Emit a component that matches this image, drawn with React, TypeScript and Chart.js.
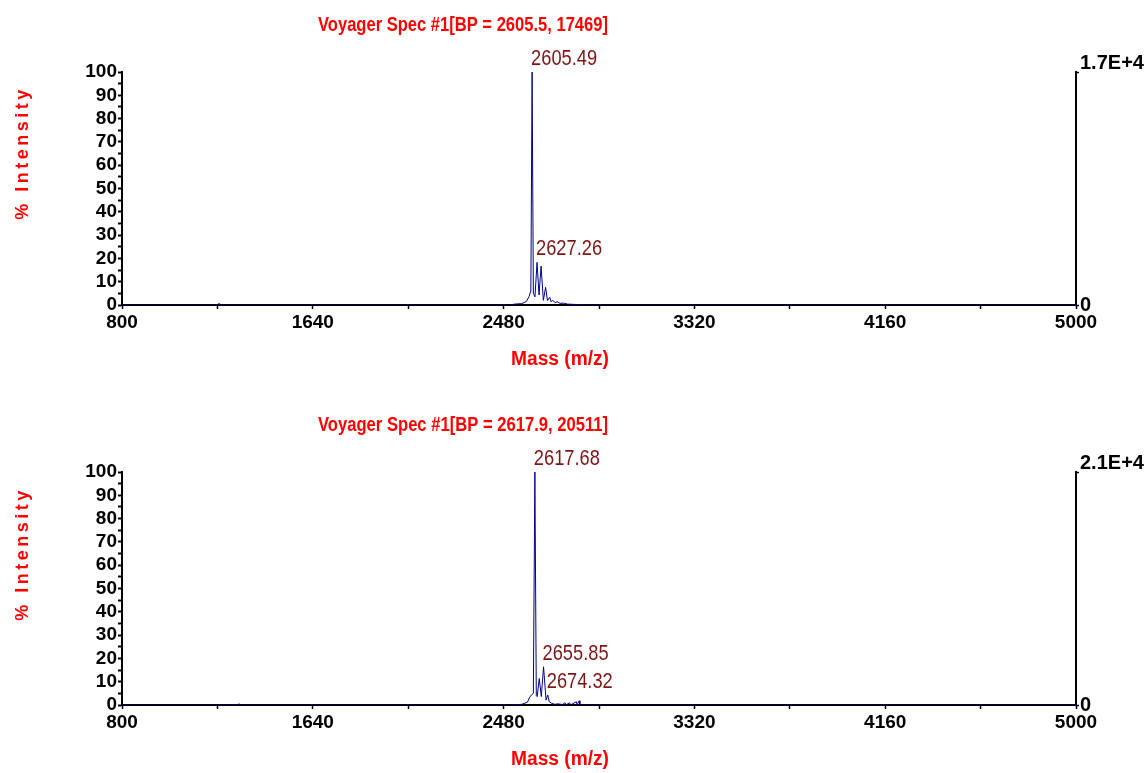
import React, { useEffect, useRef } from 'react';
import { Chart, registerables } from 'chart.js';

Chart.register(...registerables);

const NARROW = '"Liberation Sans Narrow", "Arial Narrow", "Liberation Sans", Arial, sans-serif';
const WIDE = '"Liberation Sans", Arial, sans-serif';

// axis settings
const X_MIN = 800;
const X_MAX = 5000;
const X_STEP = 420;
const X_LABEL_STEP = 840;
const Y_STEP = 5;
const Y_LABEL_STEP = 10;

// ---- top spectrum ----
const topTitle = 'Voyager Spec #1[BP = 2605.5, 17469]';
const topRightLabel = '1.7E+4';
const topBasePeak = 17469;
const topMass = [800, 1224, 1227, 1230, 2510, 2530, 2560, 2580, 2592, 2600, 2605.5, 2611, 2618, 2627.3, 2636, 2645, 2655, 2665, 2673, 2683, 2689, 2696, 2706, 2716, 2728, 2745, 2760, 2780, 2805, 2815, 5000];
const topIntensity = [0, 0, 0.8, 0, 0, 0.4, 0.6, 1.5, 3.6, 6, 100, 5, 3.5, 18.3, 4.3, 16.7, 2, 7.6, 1.9, 3.3, 1.4, 2.1, 1, 1.4, 0.7, 0.8, 0.4, 0.3, 0.2, 0, 0];
const topPeakMass = [2605.49, 2627.26];
const topPeakIntensity = [100, 18.3];

// ---- bottom spectrum ----
const bottomTitle = 'Voyager Spec #1[BP = 2617.9, 20511]';
const bottomRightLabel = '2.1E+4';
const bottomBasePeak = 20511;
const bottomMass = [800, 1312, 1315, 1318, 2520, 2560, 2585, 2596, 2611, 2617.7, 2624, 2628, 2637, 2646, 2655.9, 2667, 2674.3, 2681, 2692, 2705, 2720, 2740, 2750, 2755, 2770, 2776, 2800, 2804, 2812, 2816, 5000];
const bottomIntensity = [0, 0, 0.6, 0, 0, 0.3, 1.2, 3.6, 5, 100, 4, 3.6, 11.4, 3.6, 16.4, 2.1, 4.3, 1.4, 0.7, 0.3, 0.5, 0.2, 1.0, 0.1, 0.9, 0.1, 1.4, 0.1, 1.8, 0, 0];
const bottomPeakMass = [2617.68, 2655.85, 2674.32];
const bottomPeakIntensity = [100, 16.4, 4.3];

const WIDTH = 1147;
const AREA_TOP = 72;
const AREA_BOTTOM = 305;
const AREA_LEFT = 122;
const AREA_RIGHT = 1076;

type PanelProps = {
  mass: number[];
  intensity: number[];
  peakMass: number[];
  peakIntensity: number[];
  title: string;
  rightLabel: string;
  basePeak: number;
  height: number;
  top: number;
  yTitleCenter: number;
};

function Panel(p: PanelProps) {
  const ref = useRef<HTMLCanvasElement>(null);
  useEffect(() => {
    const canvas = ref.current!;
    const textPlugin = {
      id: 'texts',
      afterDraw(chart: any) {
        const ctx = chart.ctx as CanvasRenderingContext2D;
        const xs = chart.scales.x;
        const ys = chart.scales.y;
        ctx.save();
        ctx.fillStyle = '#ff0000';
        ctx.textBaseline = 'alphabetic';
        ctx.textAlign = 'center';
        ctx.font = `bold 21px ${NARROW}`;
        ctx.fillText(p.title, 463, 31, 290);
        ctx.font = `bold 20px ${NARROW}`;
        ctx.fillText('Mass (m/z)', 560, 365, 98);
        ctx.save();
        ctx.translate(28, p.yTitleCenter);
        ctx.rotate(-Math.PI / 2);
        ctx.font = `bold 18px ${WIDE}`;
        (ctx as any).letterSpacing = '3.5px';
        ctx.fillText('% Intensity', 2, 0);
        ctx.restore();
        ctx.fillStyle = '#7f1414';
        ctx.font = `22px ${NARROW}`;
        ctx.textAlign = 'left';
        p.peakMass.forEach((m, i) => {
          ctx.fillText(m.toFixed(2), xs.getPixelForValue(m) - 1, ys.getPixelForValue(p.peakIntensity[i]) - 7, 66);
        });
        ctx.restore();
      },
    };

    const chart = new Chart(canvas, {
      type: 'line',
      data: {
        datasets: [
          {
            data: p.mass.map((m, i) => ({ x: m, y: p.intensity[i] })),
            borderColor: '#00008b',
            borderWidth: 1,
            pointRadius: 0,
            tension: 0,
            clip: { left: 0, top: 10, right: 0, bottom: 0 } as any,
          },
        ],
      },
      options: {
        responsive: false,
        animation: false,
        layout: { padding: { top: AREA_TOP, left: 0, right: 0, bottom: 0 } },
        plugins: { legend: { display: false }, tooltip: { enabled: false }, title: { display: false } },
        scales: {
          x: {
            type: 'linear',
            position: 'bottom',
            min: X_MIN,
            max: X_MAX,
            z: 1,
            afterFit: (s: any) => {
              s.height = p.height - AREA_BOTTOM;
            },
            border: { display: true, color: '#000', width: 2 },
            grid: { drawOnChartArea: false, drawTicks: true, tickLength: 4, tickColor: '#000', tickWidth: 1.5 },
            ticks: {
              stepSize: X_STEP,
              autoSkip: false,
              maxRotation: 0,
              minRotation: 0,
              padding: 2,
              color: '#000',
              font: { family: NARROW, size: 19, weight: 'bold' },
              callback: (v: any) => ((Number(v) - X_MIN) % X_LABEL_STEP === 0 ? String(v) : ''),
            },
          },
          y: {
            type: 'linear',
            position: 'left',
            min: 0,
            max: 100,
            afterFit: (s: any) => {
              s.width = AREA_LEFT;
            },
            border: { display: true, color: '#000', width: 2 },
            grid: { drawOnChartArea: false, drawTicks: true, tickLength: 4, tickColor: '#000', tickWidth: 2 },
            ticks: {
              stepSize: Y_STEP,
              autoSkip: false,
              padding: 1,
              color: '#000',
              font: { family: NARROW, size: 19, weight: 'bold' },
              callback: (v: any) => (Number(v) % Y_LABEL_STEP === 0 ? String(v) : ''),
            },
          },
          y2: {
            type: 'linear',
            position: 'right',
            min: 0,
            max: p.basePeak,
            afterFit: (s: any) => {
              s.width = WIDTH - AREA_RIGHT;
            },
            afterBuildTicks: (s: any) => {
              s.ticks = [{ value: 0 }, { value: p.basePeak }];
            },
            border: { display: true, color: '#000', width: 2 },
            grid: { drawOnChartArea: false, drawTicks: true, tickLength: 3, tickColor: '#000', tickWidth: 1.5 },
            ticks: {
              autoSkip: false,
              padding: 1,
              color: '#000',
              font: { family: NARROW, size: 20, weight: 'bold', lineHeight: 0.9 },
              callback: (v: any) => (Number(v) === 0 ? '0' : [p.rightLabel, '']),
            },
          },
        },
      } as any,
      plugins: [textPlugin],
    });
    return () => chart.destroy();
  }, []);
  return (
    <canvas
      ref={ref}
      width={WIDTH}
      height={p.height}
      style={{ position: 'absolute', left: 0, top: p.top, width: WIDTH, height: p.height, display: 'block' }}
    />
  );
}

export default function App() {
  return (
    <div style={{ position: 'fixed', left: 0, top: 0, width: WIDTH, height: 773, background: '#fff', overflow: 'hidden' }}>
      <Panel
        mass={topMass}
        intensity={topIntensity}
        peakMass={topPeakMass}
        peakIntensity={topPeakIntensity}
        title={topTitle}
        rightLabel={topRightLabel}
        basePeak={topBasePeak}
        height={400}
        top={0}
        yTitleCenter={155}
      />
      <Panel
        mass={bottomMass}
        intensity={bottomIntensity}
        peakMass={bottomPeakMass}
        peakIntensity={bottomPeakIntensity}
        title={bottomTitle}
        rightLabel={bottomRightLabel}
        basePeak={bottomBasePeak}
        height={373}
        top={400}
        yTitleCenter={156}
      />
    </div>
  );
}
